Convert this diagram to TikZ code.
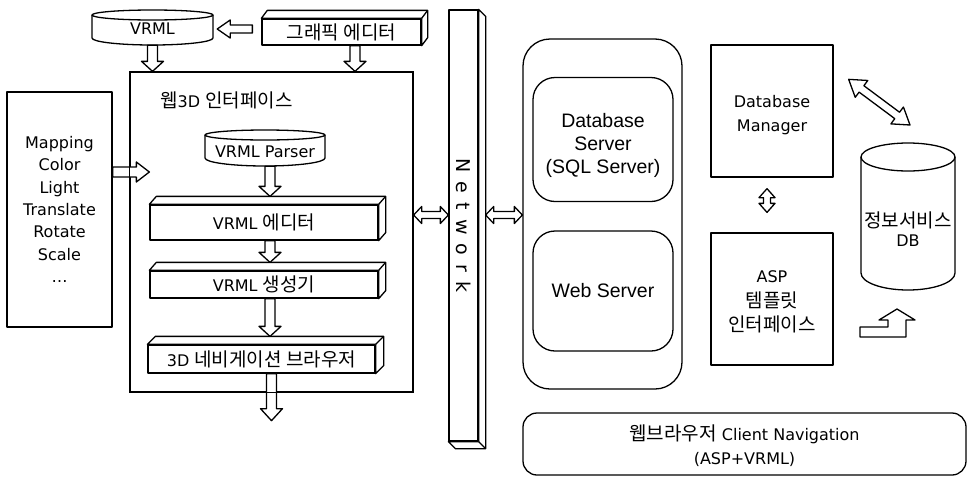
\documentclass[tikz,border=0pt]{standalone}
\usepackage{fontspec}
\setmainfont{DejaVu Sans}
\newfontfamily\kr{Noto Sans CJK KR}
\newfontfamily\arialf{Liberation Sans}
\newfontfamily\netf{DejaVu Sans}[LetterSpace=48]
\usetikzlibrary{calc}

% Hangul runs
\newcommand\kt[1]{{\kr\fontsize{19}{22}\selectfont #1}}

% hollow block arrow: from, to, shaft half width, head half width, head length
\newcommand\hollowarrow[5]{%
  \coordinate (ha-q) at ($(#2)!#5!(#1)$);
  \draw[inkline] ($(#1)!#3!90:(#2)$) -- ($(ha-q)!#3!90:(#2)$) -- ($(ha-q)!#4!90:(#2)$) -- (#2)
    -- ($(ha-q)!#4!-90:(#2)$) -- ($(ha-q)!#3!-90:(#2)$) -- ($(#1)!#3!-90:(#2)$) -- cycle;
}
% hollow block arrow with a head at both ends
\newcommand\hollowdarrow[5]{%
  \coordinate (hd-q) at ($(#2)!#5!(#1)$);
  \coordinate (hd-p) at ($(#1)!#5!(#2)$);
  \draw[inkline] (#1) -- ($(hd-p)!#4!90:(#2)$) -- ($(hd-p)!#3!90:(#2)$) -- ($(hd-q)!#3!90:(#2)$)
    -- ($(hd-q)!#4!90:(#2)$) -- (#2) -- ($(hd-q)!#4!-90:(#2)$) -- ($(hd-q)!#3!-90:(#2)$)
    -- ($(hd-p)!#3!-90:(#2)$) -- ($(hd-p)!#4!-90:(#2)$) -- cycle;
}
% top and side faces of a slab drawn behind a front rectangle node
\newcommand\slabfaces[3]{%
  \draw[inkline] (#1.north west) -- ++(#2,-#3) -- ($(#1.north east)+(#2,-#3)$)
    -- ($(#1.south east)+(#2,-#3)$) -- (#1.south east) -- (#1.north east) -- cycle;
  \draw[inkline] (#1.north east) -- ++(#2,-#3);
}
% drum: left x, right x, top centre y, top radius y, side end y, bottom radius y
\newcommand\drum[6]{%
  \pgfmathsetmacro\drumrx{(#2-#1)/2}
  \pgfmathsetmacro\drumcx{(#1+#2)/2}
  \draw[inkline] (#1,#3) -- (#1,#5) arc[start angle=180,end angle=360,x radius=\drumrx pt,y radius=#6pt] -- (#2,#3);
  \draw[inkline] (\drumcx,#3) ellipse[x radius=\drumrx pt,y radius=#4pt];
}

\begin{document}
\begin{tikzpicture}[x=1pt,y=-1pt,
  inkline/.style={draw=black,line width=1.3pt,fill=white,line join=round},
  lbl/.style={font=\fontsize{16}{20}\selectfont,inner sep=0pt,align=center},
  frame/.style={inkline,inner sep=0pt,rectangle}]
\useasboundingbox (0,0) rectangle (971,477);
\fill[white] (0,0) rectangle (971,477);

% ---------- left part: 3D web interface ----------
\drum{92}{213}{15}{5}{38}{7}
\node[lbl,minimum width=121pt,minimum height=32pt] (vrml) at (152.5,29) {VRML};

\node[frame,lbl,minimum width=159pt,minimum height=26pt] (gedit) at (341.5,32) {\kt{그래픽 에디터}};
\slabfaces{gedit}{6}{8}

\node[frame,minimum width=283pt,minimum height=320pt] (w3d) at (271.5,232) {};
\node[lbl,anchor=west] (w3dtitle) at (160,100) {\kt{웹}3D \kt{인터페이스}};

\drum{205}{325}{135}{5}{158}{8}
\node[lbl,minimum width=120pt,minimum height=28pt] (parser) at (265,152) {VRML Parser};

\node[frame,lbl,minimum width=228pt,minimum height=35pt] (vedit) at (264,222.5) {VRML \kt{에디터}};
\slabfaces{vedit}{7}{8}
\node[frame,lbl,minimum width=228pt,minimum height=27pt] (vgen) at (264,284.5) {VRML \kt{생성기}};
\slabfaces{vgen}{7}{8}
\node[frame,lbl,minimum width=227pt,minimum height=28pt] (nav) at (261.5,359) {3D \kt{네비게이션 브라우저}};
\slabfaces{nav}{8}{8}

\node[frame,lbl,font=\fontsize{16}{22.3}\selectfont,minimum width=105pt,minimum height=235pt] (mapbox) at (59.5,209.5)
  {Mapping\\Color\\Light\\Translate\\Rotate\\Scale\\…};

% arrows of the left part
\coordinate (a1) at ($(gedit.west |- vrml.east)+(-9,0)$);
\coordinate (b1) at ($(vrml.east)+(4,0)$);
\hollowarrow{a1}{b1}{4pt}{9pt}{13pt}

\coordinate (a2) at (vrml.south);
\coordinate (b2) at (w3d.north -| vrml.south);
\hollowarrow{a2}{b2}{5pt}{11pt}{10pt}

\coordinate (a3) at ($(gedit.south)+(13.5,0)$);
\coordinate (b3) at (w3d.north -| a3);
\hollowarrow{a3}{b3}{5pt}{11pt}{10pt}

\coordinate (p1) at ($(parser.south)+(5,0)$);
\coordinate (p2) at ($(vedit.north)+(6,-8)$);
\hollowarrow{p1}{p2}{5pt}{11pt}{10pt}

\coordinate (p3) at ($(vedit.south)+(6,0)$);
\coordinate (p4) at ($(vgen.north)+(6,-8)$);
\hollowarrow{p3}{p4}{5pt}{11pt}{10pt}

\coordinate (p5) at ($(vgen.south)+(6,0)$);
\coordinate (p6) at ($(nav.north)+(8.5,-8)$);
\hollowarrow{p5}{p6}{5pt}{11pt}{10pt}

\coordinate (p7) at ($(nav.south)+(10,0)$);
\coordinate (p8) at ($(p7)+(0,47)$);
\hollowarrow{p7}{p8}{5pt}{11pt}{12pt}

\coordinate (m1) at ($(mapbox.east)+(0,-37.5)$);
\coordinate (m2) at ($(w3d.west |- m1)+(20,0)$);
\hollowarrow{m1}{m2}{5pt}{10pt}{13pt}

\draw[line width=1.3pt] (w3d.north west) rectangle (w3d.south east);

% ---------- network bar ----------
\node[frame,minimum width=29pt,minimum height=431pt] (net) at (463.5,225.5) {};
\draw[inkline] (net.north east) -- ($(net.north east)+(7,7)$) -- ($(net.south east)+(7,7)$)
  -- ($(net.south west)+(7,7)$) -- (net.south west) -- (net.south east) -- cycle;
\draw[inkline] (net.south east) -- ($(net.south east)+(7,7)$);
\node[lbl,rotate=-90,font=\netf\fontsize{19}{20}\selectfont] (nettext) at (net.center) {Network};

% ---------- servers ----------
\node[inkline,rounded corners=27pt,minimum width=159pt,minimum height=350pt,inner sep=0pt] (srv) at (602.5,214) {};
\node[inkline,rounded corners=22pt,minimum width=140pt,minimum height=124pt,inner sep=0pt] (dbs) at (603,139.5) {};
\node[lbl,font=\arialf\fontsize{19.5}{23}\selectfont] (dbstext) at (603,145) {Database\\Server\\(SQL Server)};
\node[inkline,rounded corners=22pt,minimum width=140pt,minimum height=120pt,inner sep=0pt,
  font=\arialf\fontsize{19.5}{23}\selectfont] (web) at (603,291) {Web Server};

\coordinate (n1) at ($(w3d.east)+(0,-17)$);
\coordinate (n2) at (net.west |- n1);
\hollowdarrow{n1}{n2}{3.5pt}{8.5pt}{8pt}
\coordinate (n3) at ($(net.east |- n1)+(7,0)$);
\coordinate (n4) at (srv.west |- n1);
\hollowdarrow{n3}{n4}{3.5pt}{8.5pt}{8pt}

% ---------- database side ----------
\node[frame,minimum width=122pt,minimum height=132pt] (dbm) at (772,111) {};
\node[lbl,font=\fontsize{16}{24}\selectfont] (dbmtext) at (772,115) {Database\\Manager};
\node[frame,minimum width=122pt,minimum height=132pt] (asp) at (772,299) {};
\node[lbl,font=\fontsize{16}{24.5}\selectfont] (asptext) at (772,302) {ASP\\\kt{템플릿}\\\kt{인터페이스}};

\coordinate (d1) at ($(dbm.south)+(-5,11)$);
\coordinate (d2) at ($(asp.north)+(-5,-20)$);
\hollowdarrow{d1}{d2}{3.5pt}{8pt}{9pt}

\drum{861}{955}{157}{14}{273}{17}
\coordinate (dbtop) at (908,143);
\node[lbl,font=\fontsize{16}{18.5}\selectfont] (db) at (908,229) {\kt{정보서비스}\\DB};

\coordinate (g1) at ($(dbm.north east)+(15,35)$);
\coordinate (g2) at ($(dbtop)+(2,-18)$);
\hollowdarrow{g1}{g2}{4pt}{10.5pt}{16pt}

% bent arrow rising towards the database
\draw[inkline] (860,327) -- (888,327) -- (888,320) -- (879,320) -- (897,309) -- (915,320)
  -- (906,320) -- (906,337) -- (860,337) -- cycle;

% ---------- client ----------
\node[inkline,rounded corners=14pt,minimum width=443pt,minimum height=62pt,inner sep=0pt] (client) at (744.5,444) {};
\node[lbl,font=\fontsize{16}{24}\selectfont] (clienttext) at (744.5,446) {\kt{웹브라우저} Client Navigation\\(ASP+VRML)};
\end{tikzpicture}
\end{document}
